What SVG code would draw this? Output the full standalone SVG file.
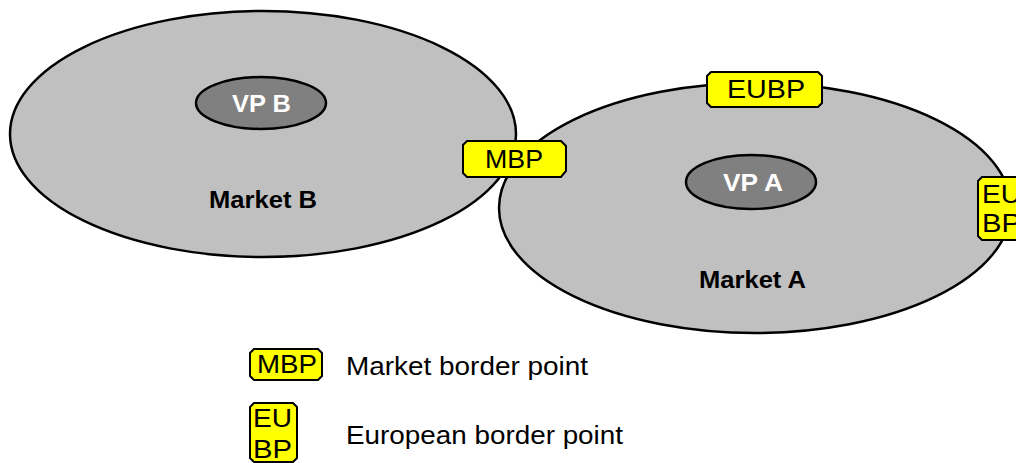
<svg xmlns="http://www.w3.org/2000/svg" width="1016" height="463" viewBox="0 0 1016 463">
<style>
.mk{fill:#c0c0c0;stroke:#000;stroke-width:2.5}
.vp{fill:#808080;stroke:#000;stroke-width:2.5}
.bp{fill:#ffff00;stroke:#000;stroke-width:2}
.vt{font-family:"Liberation Sans",Arial,sans-serif;font-weight:bold;font-size:23px;fill:#fff}
.mt{font-family:"Liberation Sans",Arial,sans-serif;font-weight:bold;font-size:24px;fill:#000}
.bt{font-family:"Liberation Sans",Arial,sans-serif;font-size:25px;fill:#000}
.lt{font-family:"Liberation Sans",Arial,sans-serif;font-size:25px;fill:#000}
</style>
<rect width="1016" height="463" fill="#fff"/>
<g id="marketB">
<ellipse class="mk" cx="263" cy="134" rx="253" ry="123"/>
<text class="mt" x="209" y="208" textLength="108" lengthAdjust="spacingAndGlyphs">Market B</text>
</g>
<g id="marketA">
<ellipse class="mk" cx="755" cy="208" rx="256" ry="125"/>
<text class="mt" x="699" y="288" textLength="107" lengthAdjust="spacingAndGlyphs">Market A</text>
</g>
<g id="vpB">
<ellipse class="vp" cx="261" cy="103" rx="65" ry="26"/>
<text class="vt" x="232" y="112" textLength="59" lengthAdjust="spacingAndGlyphs">VP B</text>
</g>
<g id="vpA">
<ellipse class="vp" cx="751" cy="182" rx="65" ry="27"/>
<text class="vt" x="723" y="191" textLength="60" lengthAdjust="spacingAndGlyphs">VP A</text>
</g>
<g id="mbp">
<path class="bp" d="M467,141 H561 L566,146 V171 L561,177 H467 L463,173 V145 Z"/>
<text class="bt" x="485" y="168" textLength="58" lengthAdjust="spacingAndGlyphs">MBP</text>
</g>
<g id="eubpTop">
<path class="bp" d="M711,72 H818 L822,76 V103 L818,107 H711 L707,103 V76 Z"/>
<text class="bt" x="727" y="98" textLength="78" lengthAdjust="spacingAndGlyphs">EUBP</text>
</g>
<g id="eubpRight">
<path class="bp" d="M982,177 H1020 V240 H982 L978,236 V181 Z"/>
<text class="bt" x="982" y="203" textLength="39" lengthAdjust="spacingAndGlyphs">EU</text>
<text class="bt" x="982" y="232" textLength="39" lengthAdjust="spacingAndGlyphs">BP</text>
</g>
<g id="legend">
<path class="bp" d="M254,349 H318 L322,353 V376 L318,380 H254 L250,376 V353 Z"/>
<text class="bt" x="257" y="373" textLength="60" lengthAdjust="spacingAndGlyphs">MBP</text>
<text class="lt" x="346" y="375" textLength="242" lengthAdjust="spacingAndGlyphs">Market border point</text>
<path class="bp" d="M254,403 H293 L297,407 V458 L293,462 H254 L250,458 V407 Z"/>
<text class="bt" x="253" y="427" textLength="39" lengthAdjust="spacingAndGlyphs">EU</text>
<text class="bt" x="253" y="458" textLength="39" lengthAdjust="spacingAndGlyphs">BP</text>
<text class="lt" x="346" y="444" textLength="277" lengthAdjust="spacingAndGlyphs">European border point</text>
</g>
<g id="connectors"></g>
</svg>
